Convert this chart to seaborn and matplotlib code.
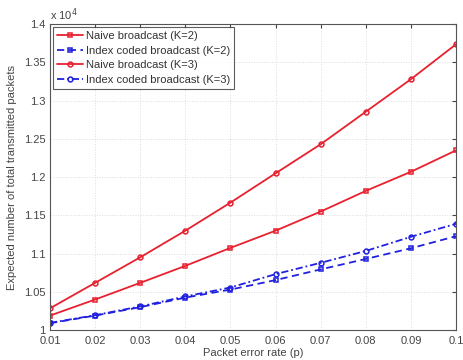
import numpy as np
import pandas as pd
import matplotlib
matplotlib.use("Agg")
import matplotlib.pyplot as plt
import matplotlib.ticker as ticker
import seaborn as sns

# Packet error rates
p_values = [0.01, 0.02, 0.03, 0.04, 0.05, 0.06, 0.07, 0.08, 0.09, 0.10]

# Expected number of total transmitted packets
naive_k2 = [10190, 10400, 10618, 10840, 11075, 11300, 11550, 11820, 12070, 12350]
index_k2 = [10090, 10190, 10300, 10425, 10530, 10654, 10794, 10930, 11070, 11228]
naive_k3 = [10285, 10618, 10952, 11300, 11667, 12050, 12430, 12855, 13280, 13737]
index_k3 = [10095, 10195, 10310, 10440, 10557, 10732, 10880, 11035, 11220, 11390]

series_names = ["Naive broadcast (K=2)", "Index coded broadcast (K=2)",
                "Naive broadcast (K=3)", "Index coded broadcast (K=3)"]


def tick_fmt(x, pos):
    v = x / 1e4
    return f"{v:.2f}".rstrip("0").rstrip(".")


def x_fmt(x, pos):
    return f"{x:.2f}".rstrip("0") if x < 0.095 else "0.1"


def main():
    sns.set_style("white")
    plt.rcParams['font.family'] = ['Liberation Sans', 'DejaVu Sans']

    red = "#e8202f"
    blue = "#2020e0"
    colors = [red, blue, red, blue]
    styles = ["-", (0, (4, 2.5)), "-", (0, (4, 1.6, 1, 1.6))]
    marks = ["s", "s", "o", "o"]
    all_values = [naive_k2, index_k2, naive_k3, index_k3]

    fig = plt.figure(figsize=(4.63, 3.6), dpi=100)
    ax = fig.add_axes([0.108, 0.083, 0.877, 0.85])

    for name, vals, c, ls, m in zip(series_names, all_values, colors, styles, marks):
        d = pd.DataFrame({"p": p_values, "packets": vals})
        sns.lineplot(data=d, x="p", y="packets", color=c, linestyle=ls,
                     marker=m, markersize=3.5, markerfacecolor="none",
                     markeredgecolor=c, markeredgewidth=1.1,
                     linewidth=1.3, label=name, ax=ax)

    ax.set_xlim(0.01, 0.1)
    ax.set_ylim(10000, 14000)
    ax.set_xticks(p_values)
    ax.set_yticks(np.arange(10000, 14001, 500))
    ax.xaxis.set_major_formatter(ticker.FuncFormatter(x_fmt))
    ax.yaxis.set_major_formatter(ticker.FuncFormatter(tick_fmt))
    ax.tick_params(direction="in", length=3, labelsize=8, colors="#444444",
                   top=True, right=True)
    ax.tick_params(axis="x", pad=4)
    ax.tick_params(axis="y", pad=3)
    ax.grid(True, color="#dddddd", linestyle=":", linewidth=0.7)
    for s in ax.spines.values():
        s.set_color("#555555")
        s.set_linewidth(0.8)

    ax.set_xlabel("Packet error rate (p)", fontsize=8, color="#444444", labelpad=2)
    ax.set_ylabel("Expected number of total transmitted packets", fontsize=8,
                  color="#444444", labelpad=5)
    ax.text(0.0, 1.005, r"x 10$^4$", transform=ax.transAxes, fontsize=8,
            color="#444444", va="bottom", ha="left")

    leg = ax.legend(loc="upper left", fontsize=8, frameon=True, fancybox=False,
                    handlelength=2.3, borderaxespad=0.3, labelspacing=0.4,
                    borderpad=0.35, handletextpad=0.3)
    leg.get_frame().set_edgecolor("#333333")
    leg.get_frame().set_linewidth(0.8)
    for t in leg.get_texts():
        t.set_color("#333333")

    fig.savefig("out.png", dpi=100)


if __name__ == "__main__":
    main()
